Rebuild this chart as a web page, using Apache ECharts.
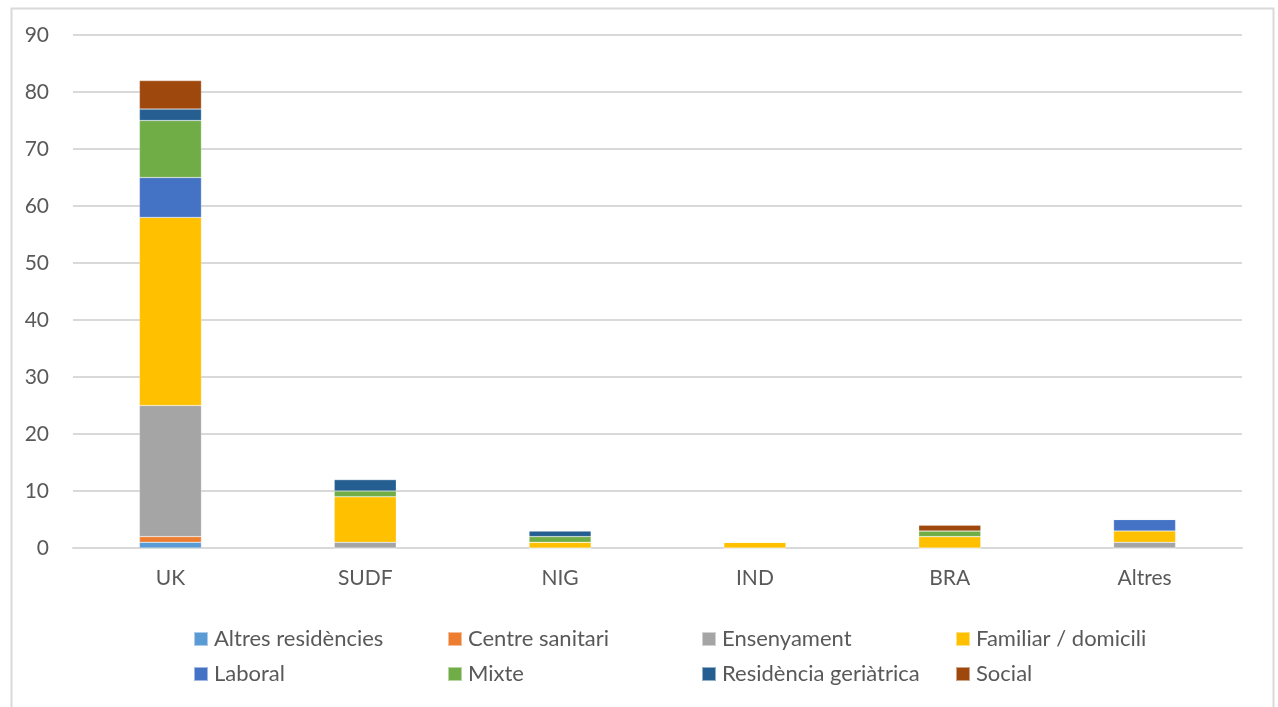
<!DOCTYPE html>
<html>
<head>
<meta charset="utf-8">
<script src="https://cdn.jsdelivr.net/npm/echarts@6/dist/echarts.min.js"></script>
<style>html,body{margin:0;padding:0;background:#fff}#c{width:1278px;height:707px}</style>
</head>
<body>
<div id="c"></div>
<script>
var categories = ['UK', 'SUDF', 'NIG', 'IND', 'BRA', 'Altres'];
var altresResidencies = [1, 0, 0, 0, 0, 0];
var centreSanitari = [1, 0, 0, 0, 0, 0];
var ensenyament = [23, 1, 0, 0, 0, 1];
var familiarDomicili = [33, 8, 1, 1, 2, 2];
var laboral = [7, 0, 0, 0, 0, 2];
var mixte = [10, 1, 1, 0, 1, 0];
var residenciaGeriatrica = [2, 2, 1, 0, 0, 0];
var social = [5, 0, 0, 0, 1, 0];
var yTicks = [0, 10, 20, 30, 40, 50, 60, 70, 80, 90];

var seriesDefs = [
  ['Altres residències', altresResidencies, '#5B9BD5'],
  ['Centre sanitari', centreSanitari, '#ED7D31'],
  ['Ensenyament', ensenyament, '#A5A5A5'],
  ['Familiar / domicili', familiarDomicili, '#FFC000'],
  ['Laboral', laboral, '#4472C4'],
  ['Mixte', mixte, '#70AD47'],
  ['Residència geriàtrica', residenciaGeriatrica, '#255E91'],
  ['Social', social, '#9E480E']
];

var font = 'Lato, "Open Sans", sans-serif';
var chart = echarts.init(document.getElementById('c'));
chart.setOption({
  animation: false,
  textStyle: { fontFamily: font },
  graphic: [{
    type: 'rect', left: 9, top: 6, silent: true,
    shape: { width: 1262, height: 720 },
    style: { fill: 'none', stroke: '#d9d9d9', lineWidth: 2 }
  }],
  grid: { left: 73, right: 36, top: 35, bottom: 159 },
  legend: {
    left: 188, top: 623, width: 1060,
    icon: 'rect', itemWidth: 14, itemHeight: 14, itemGap: 13,
    textStyle: { fontSize: 22, color: '#595959', width: 220, lineHeight: 20, fontFamily: font, padding: [0, 0, 0, 1] },
    data: seriesDefs.map(function (d) { return d[0]; })
  },
  xAxis: {
    type: 'category', data: categories,
    axisLine: { lineStyle: { color: '#d9d9d9', width: 2 } },
    axisTick: { show: false },
    axisLabel: { fontSize: 21, color: '#595959', margin: 20 }
  },
  yAxis: {
    type: 'value', min: yTicks[0], max: yTicks[yTicks.length - 1], interval: 10,
    axisLine: { show: false }, axisTick: { show: false },
    splitLine: { lineStyle: { color: '#d9d9d9', width: 2 } },
    axisLabel: { fontSize: 21, color: '#595959', margin: 24 }
  },
  series: seriesDefs.map(function (d) {
    return {
      name: d[0], type: 'bar', stack: 'total', data: d[1], barWidth: 62,
      itemStyle: { color: d[2], borderColor: 'rgba(255,255,255,0.5)', borderWidth: 0.5 }
    };
  })
});
</script>
</body>
</html>
